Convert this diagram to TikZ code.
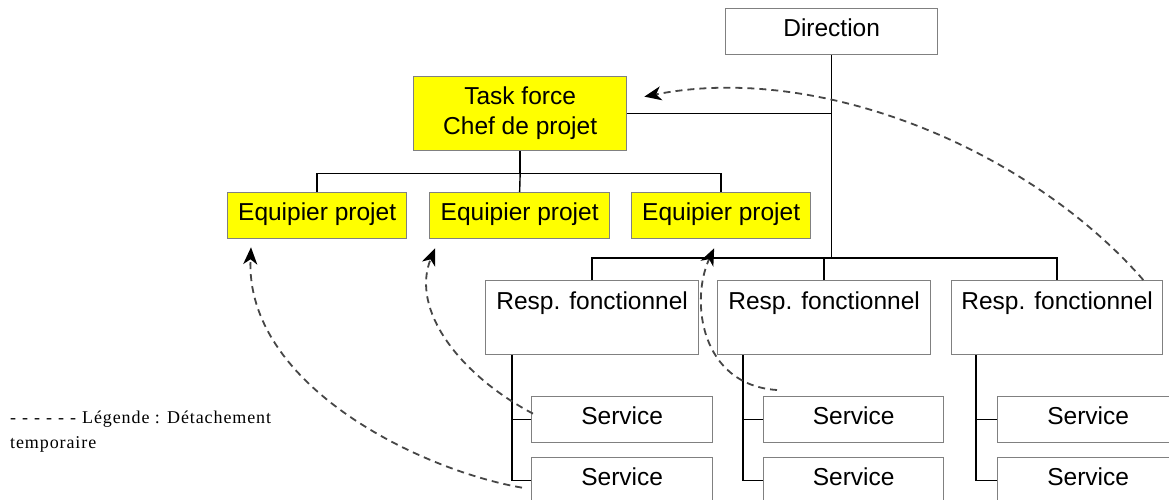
\documentclass[tikz,border=0pt]{standalone}
\usepackage{fontspec}
\setmainfont{Liberation Sans}
\newfontfamily\legendfont[LetterSpace=5]{Liberation Serif}
\usetikzlibrary{arrows.meta}
\definecolor{boxline}{RGB}{128,128,128}
\definecolor{taskyellow}{RGB}{255,255,0}
\definecolor{detachgray}{RGB}{70,70,70}
\begin{document}
\begin{tikzpicture}[x=1pt,y=-1pt,
  orgbox/.style={draw=boxline, line width=1.3pt, fill=white, inner sep=0pt,
    anchor=north west, font=\fontsize{24.5}{30}\selectfont, align=center},
  onerow/.style={orgbox, minimum height=46pt, text height=28pt, text depth=18pt},
  respbox/.style={orgbox, minimum height=74pt, text height=29pt, text depth=45pt},
  yellowbox/.style={fill=taskyellow},
  link/.style={line width=1.4pt, draw=black},
  detach/.style={draw=detachgray, line width=1.8pt, dash pattern=on 7pt off 5pt,
    -{Stealth[length=17pt,width=14pt,inset=5pt,color=black]}}]

\useasboundingbox (0,0) rectangle (1169,499);
\fill[white] (0,0) rectangle (1169,499);
\clip (0,0) rectangle (1169,499);

% top of the organisation
\node[onerow, minimum width=212pt] (dir) at (725,8) {Direction};
\node[orgbox, yellowbox, minimum width=213pt, minimum height=74pt] (tf) at (413,76)
  {Task force\\Chef de projet};

% project team
\node[onerow, yellowbox, minimum width=179pt] (e1) at (227,192) {Equipier projet};
\node[onerow, yellowbox, minimum width=180pt] (e2) at (429,192) {Equipier projet};
\node[onerow, yellowbox, minimum width=179pt] (e3) at (631,192) {Equipier projet};

% functional managers
\node[respbox, minimum width=213pt] (r1) at (485,280) {Resp. fonctionnel};
\node[respbox, minimum width=213pt] (r2) at (717,280) {Resp. fonctionnel};
\node[respbox, minimum width=211pt] (r3) at (951,280) {Resp. fonctionnel};

% services
\node[onerow, minimum width=181pt] (s11) at (531,396) {Service};
\node[onerow, minimum width=181pt] (s12) at (531,457) {Service};
\node[onerow, minimum width=180pt] (s21) at (763,396) {Service};
\node[onerow, minimum width=180pt] (s22) at (763,457) {Service};
\node[onerow, minimum width=181pt] (s31) at (997,396) {Service};
\node[onerow, minimum width=181pt] (s32) at (997,457) {Service};

% hierarchy lines
\path (tf.south) ++(0,22) coordinate (tfbus);
\draw[link] (tf.south) -- (tfbus);
\draw[link] (e1.north) |- (tfbus) -| (e3.north);
\draw[link] (tfbus) -- (e2.north);

\path (dir.south |- r1.north) ++(0,-22) coordinate (rbus);
\draw[link] (dir.south) -- (rbus);
\draw[link] (r1.north) |- (rbus) -| (r3.north);
\draw[link] (r2.north) -- (r2.north |- rbus);
\draw[link] (tf.east) -- (tf.east -| dir.south);

\coordinate (t1) at ([xshift=27pt]r1.south west);
\coordinate (t2) at ([xshift=26pt]r2.south west);
\coordinate (t3) at ([xshift=25pt]r3.south west);
\draw[link] (t1) |- (s12.west);
\draw[link] (s11.west) -- (s11.west -| t1);
\draw[link] (t2) |- (s22.west);
\draw[link] (s21.west) -- (s21.west -| t2);
\draw[link] (t3) |- (s32.west);
\draw[link] (s31.west) -- (s31.west -| t3);

% temporary secondments
\coordinate (a1s) at ([xshift=-9pt,yshift=-7pt]s12.west);
\coordinate (a1e) at ([xshift=24pt,yshift=-8pt]e1.south west);
\draw[detach] (a1s) .. controls (420,470) and (245,385) .. (a1e);

\coordinate (a2s) at ([xshift=2pt,yshift=6pt]s11.west);
\coordinate (a2e) at ([xshift=6pt,yshift=-9pt]e2.south west);
\draw[detach] (a2s) .. controls (460,375) and (410,310) .. (a2e);

\coordinate (a3s) at ([xshift=14pt,yshift=6pt]s21.north west);
\coordinate (a3e) at ([xshift=-7pt,yshift=-9pt]e3.south);
\draw[detach] (a3s) .. controls (700,385) and (690,300) .. (a3e);

\coordinate (a4s) at ([xshift=-20pt]r3.north east);
\coordinate (a4e) at ([xshift=17pt,yshift=17pt]tf.east);
\draw[detach] (a4s) .. controls (1030,150) and (820,62) .. (a4e);

% legend
\node[anchor=north west, inner sep=0pt, align=left,
  font=\legendfont\fontsize{18}{25}\selectfont] (legend) at (10,411)
  {-\hspace{6pt}-\hspace{6pt}-\hspace{6pt}-\hspace{6pt}-\hspace{6pt}-\hspace{6pt}Légende : Détachement\\temporaire};
\end{tikzpicture}
\end{document}
